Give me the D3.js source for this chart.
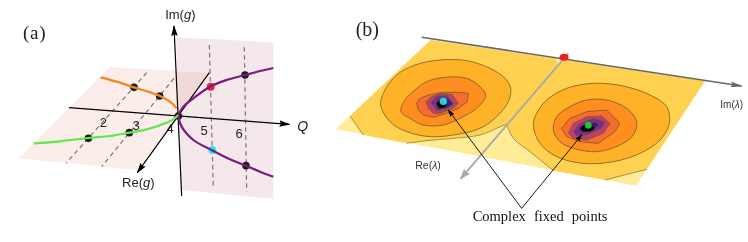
<!DOCTYPE html>
<html>
<head>
<meta charset="utf-8">
<script src="https://cdn.jsdelivr.net/npm/d3@7"></script>
<style>
html, body { margin: 0; padding: 0; background: #fff; }
svg { display: block; filter: blur(0.5px); }
text { font-family: "Liberation Sans", sans-serif; }
</style>
</head>
<body>
<div id="my_dataviz"></div>
<script>

// panel (a)
const floorPlane = [[55,475],[330,200],[625,218],[535,350],[410,510]];
const backPlane = [[528,112],[820,127],[820,597],[545,570]];
const overlapPlane = [[528,215],[625,218],[535,345]];
const qAxis = [[207,323],[868,373]];
const imAxis = [[545,588],[522,78]];
const reAxis = [[628,218],[412,518]];
const dashedLines = [
    [[440,218],[198,490]],
    [[522,235],[305,500]],
    [[628,135],[640,565]],
    [[733,142],[740,575]]
];
const orangeCurve = [[302,232],[350,245],[402,262],[445,275],[480,288],[510,305],[530,325]];
const greenCurve = [[102,430],[180,424],[265,414],[330,408],[388,398],[440,388],[490,372],[520,358],[535,345]];
const purpleTop = [[535,345],[550,320],[580,295],[630,260],[680,240],[735,225],[780,213],[820,204]];
const purpleBottom = [[535,350],[545,380],[580,420],[635,450],[690,478],[738,497],[780,515],[820,530]];
const darkDots = [[402,262],[479,288],[265,415],[388,398],[735,225],[738,497],[535,348]];
const redDotA = [[632,260]];
const cyanDotA = [[637,450]];
const tickLabels = ["2","3","4","5","6"];
const tickPos = [[310,382],[408,390],[510,400],[612,406],[717,414]];

// panel (b)
const surface = [[272,120],[1095,243],[888,557],[-12,388]];
const outerLevel = [[272,120],[1095,243],[920,508],[795,540],[640,512],[570,455],[520,415],[500,372],[470,385],[420,405],[340,415],[260,422],[200,430],[70,405],[30,348]];
const outerContours = [
    [[30,348],[70,405]],
    [[200,430],[260,422],[340,415],[420,405],[470,385],[500,372]],
    [[500,372],[520,415],[570,455],[640,512]],
    [[795,540],[920,508]]
];
const notch = [[645,172],[672,180],[655,195]];
const levelColors = ["#fdb228","#fd8e1f","#f76b2e","#b83f70","#7a2a90","#3a1a80"];
const leftLevels = [
    [[122,315],[135,270],[170,225],[225,195],[300,180],[380,182],[450,205],[495,235],[512,265],[505,305],[470,350],[420,385],[340,405],[270,410],[200,395],[150,365]],
    [[183,335],[195,300],[225,270],[260,245],[315,232],[380,235],[420,260],[437,285],[415,320],[370,350],[310,375],[250,375],[210,355]],
    [[230,310],[240,295],[265,285],[305,277],[355,277],[385,280],[382,305],[355,325],[320,340],[280,352],[250,345],[235,330]],
    [[258,305],[275,290],[300,280],[335,283],[355,310],[340,325],[300,340],[280,340],[265,325]],
    [[272,308],[290,288],[320,285],[342,310],[320,328],[290,332]],
    [[285,310],[300,295],[325,295],[340,312],[320,325],[295,330]]
];
const rightLevels = [
    [[580,375],[590,340],[620,300],[680,265],[760,250],[850,258],[930,285],[980,320],[988,370],[960,420],[900,460],[820,485],[730,490],[650,470],[600,430]],
    [[640,390],[650,350],[690,320],[740,300],[800,300],[860,325],[890,365],[880,405],[840,435],[770,455],[700,445],[660,425]],
    [[665,385],[690,355],[740,335],[800,330],[840,370],[825,395],[775,430],[720,425],[680,410]],
    [[685,400],[700,370],[740,350],[785,348],[810,370],[790,400],[740,420],[700,415]],
    [[700,395],[720,370],[760,355],[795,365],[785,385],[740,405],[710,408]],
    [[715,390],[735,370],[765,365],[780,375],[760,390],[730,400]]
];
const imLambdaAxis = [[245,112],[1205,258]];
const reLambdaAxis = [[685,160],[362,536]];
const pointerLeft = [[545,625],[325,330]];
const pointerRight = [[545,625],[725,405]];
const holes = [[305,312],[742,385]];
const cyanDotB = [[310,304]];
const greenDotB = [[745,376]];
const redDotB = [[672,172]];

const width = 748, height = 242;

const svg = d3.select("#my_dataviz").append("svg")
    .attr("width", width)
    .attr("height", height);

const xA = d3.scaleLinear().domain([0, 960]).range([0, 320]);
const xB = d3.scaleLinear().domain([0, 1224]).range([340, 748]);
const yAll = d3.scaleLinear().domain([0, 726]).range([0, 242]);

const lineA = d3.line().x(d => xA(d[0])).y(d => yAll(d[1]));
const lineB = d3.line().x(d => xB(d[0])).y(d => yAll(d[1]));
const curveA = d3.line().x(d => xA(d[0])).y(d => yAll(d[1])).curve(d3.curveCatmullRom);
const curveB = d3.line().x(d => xB(d[0])).y(d => yAll(d[1])).curve(d3.curveCatmullRom);
const polyA = d3.line().x(d => xA(d[0])).y(d => yAll(d[1])).curve(d3.curveLinearClosed);
const polyB = d3.line().x(d => xB(d[0])).y(d => yAll(d[1])).curve(d3.curveLinearClosed);
const blobB = d3.line().x(d => xB(d[0])).y(d => yAll(d[1])).curve(d3.curveCatmullRomClosed);

function addMarker(id, color, len, wid) {
    svg.append("defs").append("marker")
        .attr("id", id)
        .attr("markerUnits", "userSpaceOnUse")
        .attr("viewBox", `0 0 ${len} ${wid}`)
        .attr("refX", len - 1)
        .attr("refY", wid / 2)
        .attr("markerWidth", len)
        .attr("markerHeight", wid)
        .attr("orient", "auto")
        .append("path")
        .attr("d", `M0,0L${len},${wid / 2}L0,${wid}L${len * 0.15},${wid / 2}Z`)
        .attr("fill", color);
}
addMarker("arrowBlack", "#000", 11, 6.5);
addMarker("arrowDark", "#666", 12, 6);
addMarker("arrowGray", "#a8a8a8", 11, 8);
addMarker("arrowThin", "#000", 8, 5);

// panel (a)
const a = svg.append("g");
a.append("path").attr("d", polyA(floorPlane)).attr("fill", "#fbeeea");
a.append("path").attr("d", polyA(backPlane)).attr("fill", "#f4e8ea");
a.append("path").attr("d", polyA(overlapPlane)).attr("fill", "#f0d9d6");

a.selectAll("path.dash")
    .data(dashedLines)
    .join("path")
    .attr("class", "dash")
    .attr("d", lineA)
    .attr("stroke", "#777")
    .attr("stroke-width", 1.2)
    .attr("stroke-dasharray", "4.5,3.5")
    .attr("fill", "none");

[qAxis, imAxis, reAxis].forEach(function (ax) {
    a.append("path")
        .attr("d", lineA(ax))
        .attr("stroke", "#000")
        .attr("stroke-width", 1.2)
        .attr("fill", "none")
        .attr("marker-end", "url(#arrowBlack)");
});

function dots(data, color, r) {
    a.selectAll(null)
        .data(data)
        .join("circle")
        .attr("cx", d => xA(d[0]))
        .attr("cy", d => yAll(d[1]))
        .attr("r", r)
        .attr("fill", color);
}
dots(cyanDotA, "#2fe6f0", 4);
dots(redDotA, "#f0203a", 4);
dots(darkDots, "#1c1c1c", 3.8);

// curves go over the dots in the original
[[orangeCurve, "#f5851f"], [greenCurve, "#5ee84a"], [purpleTop, "#7d1a80"], [purpleBottom, "#7d1a80"]].forEach(function (c) {
    a.append("path")
        .attr("d", curveA(c[0]))
        .attr("stroke", c[1])
        .attr("stroke-width", 2.2)
        .attr("fill", "none");
});

a.selectAll("text.tick")
    .data(tickLabels)
    .join("text")
    .attr("class", "tick")
    .attr("x", (d, i) => xA(tickPos[i][0]))
    .attr("y", (d, i) => yAll(tickPos[i][1]))
    .attr("text-anchor", "middle")
    .attr("font-size", 13)
    .attr("fill", "#222")
    .text(d => d);

function mathLabel(g, x, y, size, before, italic, after, color) {
    const t = g.append("text")
        .attr("x", x)
        .attr("y", y)
        .attr("text-anchor", "middle")
        .attr("font-size", size)
        .attr("fill", color);
    t.append("tspan").text(before);
    t.append("tspan").attr("font-style", "italic").text(italic);
    t.append("tspan").text(after);
}
mathLabel(a, xA(541), yAll(58), 13, "Im(", "g", ")", "#222");
mathLabel(a, xA(415), yAll(562), 13, "Re(", "g", ")", "#222");
mathLabel(a, xA(908), yAll(393), 14, "", "Q", "", "#222");

svg.append("text")
    .attr("x", xA(104))
    .attr("y", yAll(117))
    .attr("text-anchor", "middle")
    .attr("font-size", 19)
    .attr("letter-spacing", 0.8)
    .style("font-family", "'Liberation Serif', serif")
    .attr("fill", "#222")
    .text("(a)");

// panel (b)
const b = svg.append("g");
b.append("path").attr("d", polyB(surface)).attr("fill", "#feec98");
b.append("path").attr("d", polyB(outerLevel)).attr("fill", "#fed250");
b.append("path").attr("d", polyB(notch)).attr("fill", "#feec98");

b.selectAll("path.outer")
    .data(outerContours)
    .join("path")
    .attr("class", "outer")
    .attr("d", curveB)
    .attr("fill", "none")
    .attr("stroke", "#8a6a2a")
    .attr("stroke-width", 0.7);

[leftLevels, rightLevels].forEach(function (levels) {
    levels.forEach(function (pts, i) {
        b.append("path")
            .attr("d", i < 2 ? blobB(pts) : polyB(pts))
            .attr("fill", levelColors[i])
            .attr("stroke", "#7a5a2a")
            .attr("stroke-width", 0.8);
    });
});

b.selectAll(null)
    .data(holes)
    .join("ellipse")
    .attr("cx", d => xB(d[0]))
    .attr("cy", d => yAll(d[1]))
    .attr("rx", (d, i) => i ? 7 : 4.5)
    .attr("ry", (d, i) => i ? 3.5 : 4)
    .attr("fill", "#0a0a0a");

b.append("path").attr("d", lineB(reLambdaAxis))
    .attr("stroke", "#a8a8a8").attr("stroke-width", 1.8).attr("fill", "none")
    .attr("marker-end", "url(#arrowGray)");
b.append("path").attr("d", lineB(imLambdaAxis))
    .attr("stroke", "#666").attr("stroke-width", 1.6).attr("fill", "none")
    .attr("marker-end", "url(#arrowDark)");

b.selectAll(null).data(redDotB).join("ellipse")
    .attr("cx", d => xB(d[0])).attr("cy", d => yAll(d[1]))
    .attr("rx", 4.5).attr("ry", 3.5).attr("fill", "#ee1c25");

[pointerLeft, pointerRight].forEach(function (p) {
    b.append("path").attr("d", lineB(p))
        .attr("stroke", "#000").attr("stroke-width", 0.9).attr("fill", "none")
        .attr("marker-end", "url(#arrowThin)");
});

b.selectAll(null).data(cyanDotB).join("circle")
    .attr("cx", d => xB(d[0])).attr("cy", d => yAll(d[1]))
    .attr("r", 3.7).attr("fill", "#2ad0d8");
b.selectAll(null).data(greenDotB).join("circle")
    .attr("cx", d => xB(d[0])).attr("cy", d => yAll(d[1]))
    .attr("r", 3.3).attr("fill", "#1ec832");

mathLabel(b, xB(1175), yAll(325), 10, "Im(", "\u03bb", ")", "#333");
mathLabel(b, xB(264), yAll(507), 10.5, "Re(", "\u03bb", ")", "#333");

svg.append("text")
    .attr("x", xB(82))
    .attr("y", yAll(107))
    .attr("text-anchor", "middle")
    .attr("font-size", 20)
    .style("font-family", "'Liberation Serif', serif")
    .attr("fill", "#222")
    .text("(b)");

svg.append("text")
    .attr("x", xB(600))
    .attr("y", yAll(662))
    .attr("text-anchor", "middle")
    .attr("font-size", 14.5)
    .attr("word-spacing", 4.5)
    .style("font-family", "'Liberation Serif', serif")
    .attr("fill", "#111")
    .text("Complex fixed points");
</script>
</body>
</html>
